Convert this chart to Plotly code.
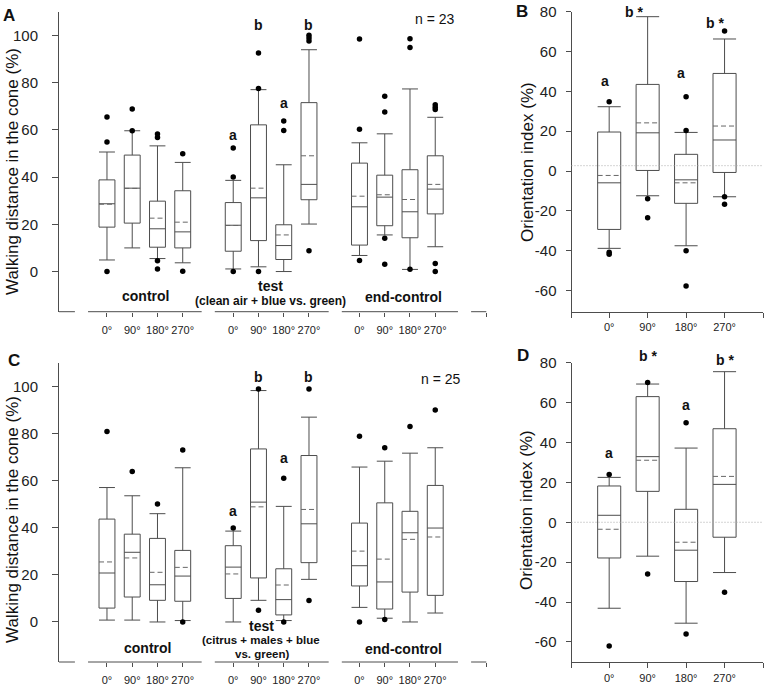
import plotly.graph_objects as go

W, H = 767, 687
def px(x): return x / W
def py(y): return 1 - y / H

angles = ["0°", "90°", "180°", "270°"]
groups = ["control", "test", "end-control"]

# ---- Panel A: walking distance, clean air + blue vs green (n = 23) ----
A_hi   = [50.6, 59.6, 53.2, 46.2, 38.6, 77.0, 45.2, 93.9, 54.5, 58.3, 77.3, 65.3]
A_q3   = [38.8, 49.3, 29.8, 34.2, 29.2, 62.1, 19.8, 71.5, 45.9, 40.8, 43.1, 49.0]
A_med  = [28.7, 35.3, 18.1, 16.8, 19.6, 31.2, 11.0, 36.9, 27.4, 31.5, 25.3, 34.9]
A_mean = [28.5, 35.2, 22.6, 20.9, 19.5, 35.3, 15.5, 49.0, 31.9, 32.5, 30.5, 36.9]
A_q1   = [18.8, 20.5, 10.3, 10.0, 8.6, 13.1, 5.1, 30.4, 11.2, 19.4, 14.3, 24.4]
A_lo   = [4.9, 10.0, 5.5, 3.7, 1.1, 2.0, 0.0, 20.1, 6.8, 15.5, 0.9, 10.5]
A_out_idx = [0, 0, 0, 1, 1, 2, 2, 2, 2, 3, 3, 4, 4, 4, 5, 5, 5, 6, 6,
             7, 7, 7, 7, 8, 8, 8, 9, 9, 9, 9, 10, 10, 10, 11, 11, 11, 11, 11]
A_out_val = [65.4, 54.8, 0.0, 68.8, 59.6, 58.2, 56.7, 4.6, 1.1, 49.9, 0.1, 52.3, 40.0, 0.0,
             92.5, 77.5, 0.0, 63.7, 59.7, 100.0, 98.9, 97.6, 8.8, 98.4, 60.2, 4.7,
             74.2, 67.5, 14.1, 3.1, 98.6, 94.8, 1.0, 70.6, 69.6, 68.6, 3.4, 0.0]

# ---- Panel B: orientation index (clean air) ----
B_hi   = [32.3, 77.5, 19.4, 66.3]
B_q3   = [19.6, 43.5, 8.4, 49.0]
B_med  = [-5.9, 19.2, -4.4, 15.6]
B_mean = [-2.2, 24.2, -5.9, 22.6]
B_q1   = [-29.3, 0.3, -16.2, -0.7]
B_lo   = [-38.8, -12.4, -37.5, -12.9]
B_out_idx = [0, 0, 0, 1, 1, 2, 2, 2, 2, 3, 3, 3]
B_out_val = [34.8, -40.8, -41.8, -13.9, -23.4, 37.3, 20.3, -40.0, -57.7, 70.3, -12.9, -16.7]
B_ref = 2.7

# ---- Panel C: walking distance, citrus + males + blue vs green (n = 25) ----
C_hi   = [57.1, 53.6, 46.0, 65.5, 38.6, 98.3, 49.1, 87.0, 65.8, 68.3, 71.7, 74.0]
C_q3   = [43.7, 37.3, 35.5, 30.4, 32.4, 73.5, 22.6, 70.7, 42.0, 50.6, 47.0, 58.0]
C_med  = [20.8, 29.6, 15.8, 19.5, 23.3, 50.9, 9.5, 41.7, 23.9, 17.0, 37.9, 39.9]
C_mean = [25.5, 27.2, 21.1, 23.2, 20.4, 48.9, 15.7, 47.8, 30.1, 26.7, 35.1, 36.1]
C_q1   = [5.9, 10.6, 9.2, 8.8, 10.0, 18.7, 3.0, 25.2, 15.3, 5.5, 12.7, 11.3]
C_lo   = [0.8, 0.8, 0.0, 0.6, 0.0, 9.2, 0.6, 18.1, 6.2, 1.6, 0.0, 3.8]
C_out_idx = [0, 1, 2, 3, 3, 4, 5, 5, 6, 6, 7, 7, 8, 8, 9, 9, 10, 11]
C_out_val = [80.9, 63.9, 50.1, 73.0, 0.0, 39.9, 99.0, 5.0, 61.0, 0.0, 99.0, 9.1,
             78.9, 0.0, 74.0, 1.0, 83.0, 90.0]

# ---- Panel D: orientation index (citrus + males) ----
D_hi   = [22.5, 69.3, 37.2, 75.5]
D_q3   = [18.2, 63.0, 6.5, 46.9]
D_med  = [3.5, 32.9, -14.0, 19.0]
D_mean = [-3.5, 31.1, -10.0, 23.0]
D_q1   = [-17.9, 15.5, -29.7, -7.5]
D_lo   = [-43.1, -17.0, -50.6, -25.2]
D_out_idx = [0, 0, 1, 1, 2, 2, 3]
D_out_val = [24.0, -62.0, 70.1, -25.9, 49.9, -56.0, -35.1]
D_ref = 0

A_letters = ["a", "b", "a", "b"]
B_letters = ["a", "b *", "a", "b *"]

FONT = "Arial, Liberation Sans, sans-serif"
LC = "#4d4d4d"

pos12 = [g * 5 + i for g in range(len(groups)) for i in range(len(angles))]
pos4 = list(range(len(angles)))

fig = go.Figure()

def add_panel(xa, ya, pos, hi, q3, med, mean, q1, lo, oidx, oval, width):
    fig.add_trace(go.Box(
        x=pos, q1=q1, median=med, q3=q3, lowerfence=lo, upperfence=hi,
        boxpoints=False, width=width, whiskerwidth=1,
        line=dict(color=LC, width=1), fillcolor="rgba(0,0,0,0)",
        xaxis=xa, yaxis=ya, showlegend=False, hoverinfo="skip"))
    # mean lines (dashed) across each box
    mx, my = [], []
    for p, m in zip(pos, mean):
        mx += [p - width / 2, p + width / 2, None]
        my += [m, m, None]
    fig.add_trace(go.Scatter(
        x=mx, y=my, mode="lines", line=dict(color="#666", width=1, dash="5px,3px"),
        xaxis=xa, yaxis=ya, showlegend=False, hoverinfo="skip"))
    fig.add_trace(go.Scatter(
        x=[pos[i] for i in oidx], y=oval, mode="markers",
        marker=dict(color="black", size=5.5), xaxis=xa, yaxis=ya,
        showlegend=False, hoverinfo="skip"))

add_panel("x", "y", pos12, A_hi, A_q3, A_med, A_mean, A_q1, A_lo, A_out_idx, A_out_val, 0.63)
add_panel("x2", "y2", pos4, B_hi, B_q3, B_med, B_mean, B_q1, B_lo, B_out_idx, B_out_val, 0.6)
add_panel("x3", "y3", pos12, C_hi, C_q3, C_med, C_mean, C_q1, C_lo, C_out_idx, C_out_val, 0.63)
add_panel("x4", "y4", pos4, D_hi, D_q3, D_med, D_mean, D_q1, D_lo, D_out_idx, D_out_val, 0.6)

def yaxis_walk(dom, anchor):
    vals = [0, 20, 40, 60, 80, 100]
    return dict(domain=dom, anchor=anchor, range=[-17, 110], tickvals=vals,
                ticktext=[str(v) for v in vals], ticks="outside", ticklen=6,
                tickcolor=LC, showline=True, linecolor=LC, linewidth=1,
                showgrid=False, zeroline=False, ticklabelstandoff=11,
                tickfont=dict(size=15, color="#222", family=FONT))

def yaxis_orient(dom, anchor, rng):
    vals = [-60, -40, -20, 0, 20, 40, 60, 80]
    return dict(domain=dom, anchor=anchor, range=rng, tickvals=vals,
                ticktext=[str(v) for v in vals], ticks="outside", ticklen=5,
                tickcolor=LC, showline=True, linecolor=LC, linewidth=1,
                showgrid=False, zeroline=False, ticklabelstandoff=6,
                tickfont=dict(size=15, color="#222", family=FONT))

XR12 = [-1.9, 15.03]
def xaxis_walk(dom, anchor):
    return dict(domain=dom, anchor=anchor, range=XR12,
                tickvals=pos12 + [15.02], ticktext=angles * 3 + [""],
                ticks="outside", ticklen=4, tickcolor=LC, showline=False,
                showgrid=False, zeroline=False, ticklabelstandoff=4,
                tickfont=dict(size=11, color="#222", family=FONT))

XR4 = [-0.98, 4.0]
def xaxis_orient(dom, anchor):
    return dict(domain=dom, anchor=anchor, range=XR4,
                tickvals=[-0.98] + pos4 + [4.0], ticktext=[""] + angles + [""],
                ticks="outside", ticklen=5, tickcolor=LC, showline=True,
                linecolor=LC, linewidth=1, showgrid=False, zeroline=False,
                tickfont=dict(size=11, color="#222", family=FONT))

xdomL = [px(59), px(486.5)]
xdomR = [px(571.5), px(763)]
ydomT = [py(311.7), py(11.7)]
ydomB = [py(662), py(363)]

fig.update_layout(
    width=W, height=H, margin=dict(l=0, r=0, t=0, b=0, autoexpand=False),
    paper_bgcolor="white", plot_bgcolor="white", showlegend=False,
    font=dict(family=FONT, color="#111"),
    xaxis=xaxis_walk(xdomL, "y"), yaxis=yaxis_walk(ydomT, "x"),
    xaxis2=xaxis_orient(xdomR, "y2"), yaxis2=yaxis_orient(ydomT, "x2", [-70.6, 80]),
    xaxis3=xaxis_walk(xdomL, "y3"), yaxis3=yaxis_walk(ydomB, "x3"),
    xaxis4=xaxis_orient(xdomR, "y4"), yaxis4=yaxis_orient([py(662.3), py(362.7)], "x4", [-70.2, 80]),
)

shapes = []
# broken x axis segments for panels A and C
segs = [(-1.9, -1.27), (-0.75, 3.75), (4.27, 8.78), (9.3, 13.9), (14.42, 15.03)]
for xa, ya in [("x", "y"), ("x3", "y3")]:
    for a, b in segs:
        shapes.append(dict(type="line", xref=xa, yref=ya + " domain", x0=a, x1=b, y0=0, y1=0,
                           line=dict(color=LC, width=1)))
# dotted reference lines
for xa, ya, r in [("x2", "y2", B_ref), ("x4", "y4", D_ref)]:
    shapes.append(dict(type="line", xref=xa + " domain", yref=ya, x0=0, x1=1, y0=r, y1=r,
                       line=dict(color="#aaa", width=1, dash="1px,2px")))
fig.update_layout(shapes=shapes)

ann = []
def T(x, y, text, size=14, bold=False, xref="paper", angle=0, xshift=0):
    ann.append(dict(x=x if xref != "paper" else px(x), y=py(y), xref=xref, yref="paper",
                    text=f"<b>{text}</b>" if bold else text, showarrow=False,
                    font=dict(size=size, family=FONT, color="#111"),
                    xanchor="center", yanchor="middle", textangle=angle, xshift=xshift))

# panel letters
T(9, 15, "A", 17, True); T(522, 11, "B", 17, True)
T(14, 360, "C", 17, True); T(523, 355, "D", 17, True)
# axis titles
T(12, 172, "Walking distance in the cone (%)", 17, angle=-90)
T(12, 520, "Walking distance in the cone (%)", 17, angle=-90)
T(527, 162, "Orientation index (%)", 17, angle=-90)
T(527, 510, "Orientation index (%)", 17, angle=-90)
# significance letters
for i, yy in enumerate([135, 25, 103, 25]):
    T(pos12[4 + i], yy, A_letters[i], 14, True, xref="x")
for i, yy in enumerate([511, 377, 458, 377]):
    T(pos12[4 + i], yy, A_letters[i], 14, True, xref="x3")
for i, (yy, xs) in enumerate([(81, -4), (12, -14), (73, -5), (23, -10)]):
    T(pos4[i], yy, B_letters[i], 14, True, xref="x2", xshift=xs)
for i, yy in enumerate([453, 356, 405, 360]):
    T(pos4[i], yy, B_letters[i], 14, True, xref="x4")
# group labels
T(145, 296, "control", 14, True)
T(270, 286, "test", 14, True)
T(270, 301, "(clean air + blue vs. green)", 12, True)
T(403, 297, "end-control", 14, True)
T(435, 19, "n = 23", 14)
T(147, 648, "control", 14, True)
T(261, 626, "test", 14, True)
T(261, 640, "(citrus + males + blue", 11.5, True)
T(262, 654, "vs. green)", 11.5, True)
T(403, 649, "end-control", 14, True)
T(441, 379, "n = 25", 14)
fig.update_layout(annotations=ann)

fig.write_html("out.html", config={"displayModeBar": False},
               post_script="document.body.style.margin='0px';")
